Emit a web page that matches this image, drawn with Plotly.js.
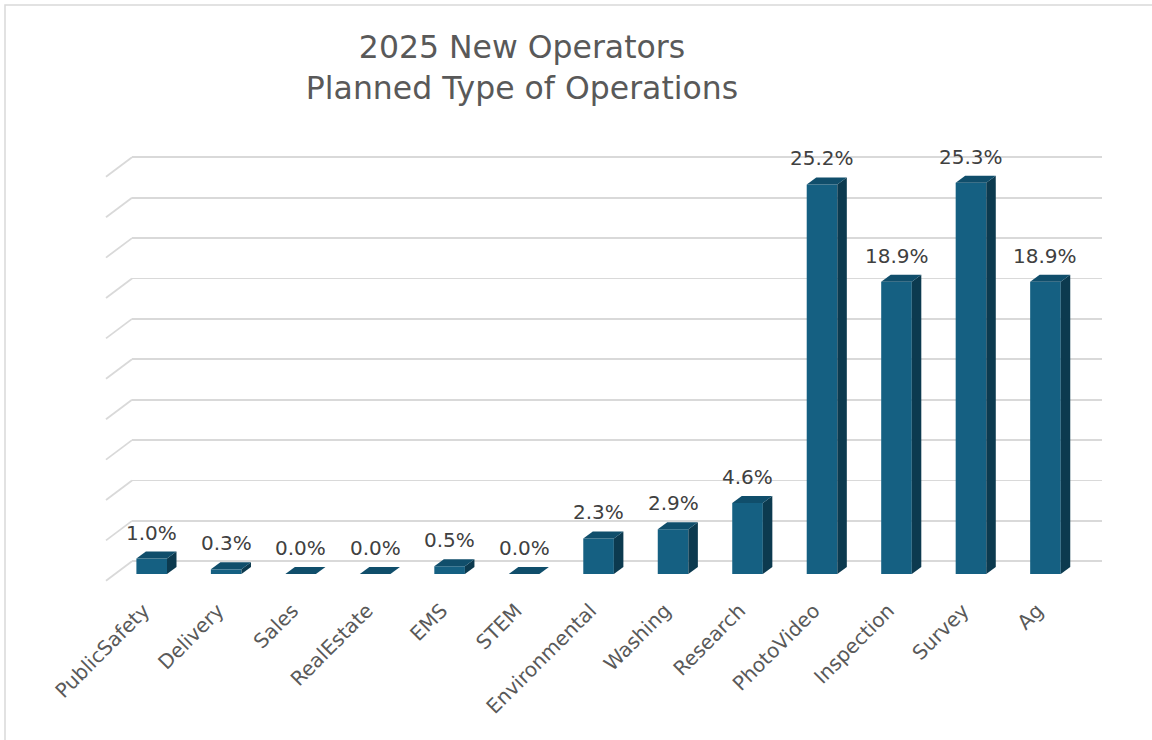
<!DOCTYPE html>
<html>
<head>
<meta charset="utf-8">
<script src="https://cdn.plot.ly/plotly-3.0.1.min.js"></script>
<style>html,body{margin:0;padding:0;background:#fff;}#chart{width:1152px;height:740px;}</style>
</head>
<body>
<div id="chart"></div>
<script>
// ---- data ----
const categories = ['PublicSafety','Delivery','Sales','RealEstate','EMS','STEM','Environmental','Washing','Research','PhotoVideo','Inspection','Survey','Ag'];
const shares = [1.0, 0.3, 0.0, 0.0, 0.5, 0.0, 2.3, 2.9, 4.6, 25.2, 18.9, 25.3, 18.9];
const valueLabels = shares.map(v => v.toFixed(1) + '%');
const gridLevels = [0,1,2,3,4,5,6,7,8,9,10];
const titleText = '2025 New Operators<br>Planned Type of Operations';

// ---- geometry / style constants (pixels) ----
const W = 1152, H = 740;
const PL = 132, PR = 1102, PT = 140, PB = 590;
const PW = PR - PL, PH = PB - PT;
const wallZero = 561.3, gridPx = 40.4;          // back wall scale
const barX0 = 151.7, catPx = 74.48;             // front plane category spacing
const barZero = 574, valPx = 15.46;             // front plane value scale
const depthX = 9.5, depthY = 7;                 // bar depth offset
const sideX = 26, sideY = 19.5;                 // side wall depth
const halfW = 15.3;                              // half bar width

const FRONT = '#156082', TOP = '#104E6B', SIDE = '#0C3A4F';
const GRID = '#d9d9d9';

const yRange = [-(PB - wallZero) / gridPx, (wallZero - PT) / gridPx];
const x2Range = [(PL - barX0) / catPx, (PR - barX0) / catPx];
const y2Range = [-(PB - barZero) / valPx, (barZero - PT) / valPx];

const hw = halfW / catPx, dxu = depthX / catPx, dyu = depthY / valPx;
const idx = categories.map((c, i) => i);

const shapes = [];
// chart-area border
shapes.push({type:'rect', xref:'paper', yref:'paper', layer:'below',
  x0:(5 - PL) / PW, x1:(1170 - PL) / PW, y0:(PB - 5) / PH, y1:(PB - 760) / PH,
  line:{color:GRID, width:1.5}, fillcolor:'rgba(0,0,0,0)'});
// side-wall gridline stubs
gridLevels.forEach(k => {
  shapes.push({type:'line', xref:'paper', yref:'y', layer:'below',
    x0:0, x1:-sideX / PW, y0:k, y1:k - sideY / gridPx,
    line:{color:GRID, width:1.8}});
});
// 3D faces
idx.forEach(i => {
  const v = shares[i];
  shapes.push({type:'path', xref:'x2', yref:'y2', layer:'above', line:{width:0}, fillcolor:SIDE,
    path:`M ${i+hw},0 L ${i+hw+dxu},${dyu} L ${i+hw+dxu},${v+dyu} L ${i+hw},${v} Z`});
  shapes.push({type:'path', xref:'x2', yref:'y2', layer:'above', line:{width:0}, fillcolor:TOP,
    path:`M ${i-hw},${v} L ${i+hw},${v} L ${i+hw+dxu},${v+dyu} L ${i-hw+dxu},${v+dyu} Z`});
});

const annotations = idx.map(i => ({
  xref:'x2', yref:'y2', x:i, y:shares[i], text:valueLabels[i], showarrow:false,
  yanchor:'bottom', xanchor:'center', yshift:12,
  font:{family:'DejaVu Sans', size:20, color:'#404040'}
}));

const trace = {
  type:'bar', x:idx, y:shares, xaxis:'x2', yaxis:'y2', width:2*hw,
  marker:{color:FRONT, line:{width:0}}, hoverinfo:'skip', showlegend:false
};

const layout = {
  width:W, height:H, paper_bgcolor:'#ffffff', plot_bgcolor:'rgba(0,0,0,0)',
  margin:{l:PL, r:W - PR, t:PT, b:H - PB, autoexpand:false},
  title:{text:titleText, x:522 / W, xref:'container', xanchor:'center',
    y:1 - 58 / H, yref:'container', yanchor:'top',
    font:{family:'DejaVu Sans', size:31.5, color:'#595959'}},
  xaxis:{range:[0,1], showgrid:false, zeroline:false, showticklabels:false, showline:false, fixedrange:true},
  yaxis:{range:yRange, tickvals:gridLevels, showgrid:true, gridcolor:GRID, gridwidth:1.8,
    zeroline:false, showticklabels:false, showline:false, fixedrange:true},
  xaxis2:{overlaying:'x', anchor:'y2', range:x2Range, tickvals:idx, ticktext:categories,
    tickangle:-45, showgrid:false, zeroline:false, showline:false, ticks:'',
    ticklabelshift:-8, ticklabelstandoff:4,
    tickfont:{family:'DejaVu Sans', size:20, color:'#595959'}, fixedrange:true},
  yaxis2:{overlaying:'y', anchor:'x2', range:y2Range, showgrid:false, zeroline:false,
    showticklabels:false, showline:false, fixedrange:true},
  shapes:shapes, annotations:annotations, showlegend:false
};

Plotly.newPlot('chart', [trace], layout, {displayModeBar:false, staticPlot:true});
</script>
</body>
</html>
